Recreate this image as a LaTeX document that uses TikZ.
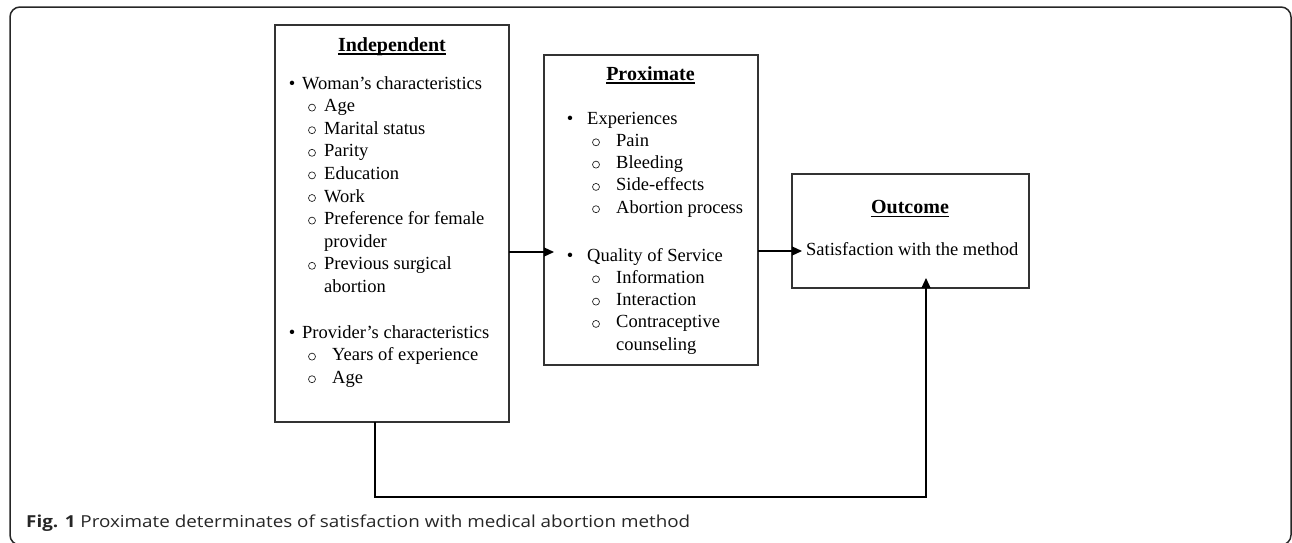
\documentclass[tikz,border=0pt]{standalone}
\usepackage{fontspec}
\usepackage{graphicx}
\setmainfont{Liberation Serif}
\newfontfamily\capfont{Open Sans}
\usetikzlibrary{arrows.meta}
\begin{document}
\begin{tikzpicture}[x=1pt,y=-1pt,
  box/.style={draw=black!80,line width=1.3pt,rectangle,inner sep=0pt,outer sep=0pt},
  txt/.style={anchor=base west,inner sep=0pt,font=\fontsize{18.5}{22}\selectfont},
  ttl/.style={anchor=base,inner sep=0pt,font=\fontsize{20}{24}\selectfont\bfseries},
  bul/.style={anchor=base,inner sep=0pt,font=\fontsize{18.5}{22}\selectfont},
  subbul/.style={circle,draw=black!85,line width=0.7pt,inner sep=0pt,minimum size=7pt},
  uline/.style={line width=1.5pt,black},
  arr/.style={draw=black,line width=1.2pt,-{Triangle[length=10pt,width=9pt]},shorten >=-10pt}]
\useasboundingbox (0,0) rectangle (1292,542);
% outer frame
\draw[line width=1.5pt,black!85,rounded corners=10pt] (10,7) rectangle (1291,545);

% boxes
\node[box,minimum width=234pt,minimum height=397pt] (indep) at (392,223.5) {};
\node[box,minimum width=214pt,minimum height=310pt] (prox) at (651,210) {};
\node[box,minimum width=237pt,minimum height=114pt] (outc) at (910.5,231) {};

% Independent
\node[ttl] (t1) at (392,51) {Independent};
\draw[uline] ([yshift=-3pt]t1.base west) -- ([yshift=-3pt]t1.base east);
\node[bul] (ib1) at (292,89) {•};
\node[txt] (i1) at (302,89) {Woman’s characteristics};
\node[subbul] (is1) at (312,107.6) {};
\node[txt] (i2) at (324,111.6) {Age};
\node[subbul] (is2) at (312,130.2) {};
\node[txt] (i3) at (324,134.2) {Marital status};
\node[subbul] (is3) at (312,152.8) {};
\node[txt] (i4) at (324,156.8) {Parity};
\node[subbul] (is4) at (312,175.4) {};
\node[txt] (i5) at (324,179.4) {Education};
\node[subbul] (is5) at (312,198) {};
\node[txt] (i6) at (324,202) {Work};
\node[subbul] (is6) at (312,220.6) {};
\node[txt] (i7) at (324,224.6) {Preference for female};
\node[txt] (i8) at (324,247.2) {provider};
\node[subbul] (is7) at (312,265.8) {};
\node[txt] (i9) at (324,269.8) {Previous surgical};
\node[txt] (i10) at (324,292.4) {abortion};
\node[bul] (ib2) at (292,338) {•};
\node[txt] (i11) at (302,338) {Provider’s characteristics};
\node[subbul] (is8) at (312,356.6) {};
\node[txt] (i12) at (332,360.6) {Years of experience};
\node[subbul] (is9) at (312,379.2) {};
\node[txt] (i13) at (332,383.2) {Age};

% Proximate
\node[ttl] (t2) at (650.5,80) {Proximate};
\draw[uline] ([yshift=-3pt]t2.base west) -- ([yshift=-3pt]t2.base east);
\node[bul] (pb1) at (570,124) {•};
\node[txt] (p1) at (587,124) {Experiences};
\node[subbul] (ps1) at (596,142.3) {};
\node[txt] (p2) at (616,146.3) {Pain};
\node[subbul] (ps2) at (596,164.6) {};
\node[txt] (p3) at (616,168.6) {Bleeding};
\node[subbul] (ps3) at (596,186.9) {};
\node[txt] (p4) at (616,190.9) {Side-effects};
\node[subbul] (ps4) at (596,209.2) {};
\node[txt] (p5) at (616,213.2) {Abortion process};
\node[bul] (pb2) at (570,261) {•};
\node[txt] (p6) at (587,261) {Quality of Service};
\node[subbul] (ps5) at (596,279.3) {};
\node[txt] (p7) at (616,283.3) {Information};
\node[subbul] (ps6) at (596,301.6) {};
\node[txt] (p8) at (616,305.6) {Interaction};
\node[subbul] (ps7) at (596,323.9) {};
\node[txt] (p9) at (616,327.9) {Contraceptive};
\node[txt] (p10) at (616,350.2) {counseling};

% Outcome
\node[ttl] (t3) at (910,213.5) {Outcome};
\draw[uline] ([yshift=-3pt]t3.base west) -- ([yshift=-3pt]t3.base east);
\node[txt] (o1) at (806,255) {Satisfaction with the method};

% connectors
\coordinate (a1) at (0,252);
\coordinate (a2) at (0,251);
\coordinate (c1) at (375,497);
\coordinate (c2) at (926,497);
\draw[arr] (indep.east |- a1) -- (prox.west |- a1);
\draw[arr] (prox.east |- a2) -- (outc.west |- a2);
\draw[arr] (indep.south -| c1) -- (c1) -- (c2) -- (outc.south -| c2);

% caption
\node[anchor=base west,inner sep=0pt,text=black!85] (cap) at (26,527)
  {\resizebox{664pt}{\height}{\fontsize{16.5}{20}\selectfont\capfont\textbf{Fig. 1} Proximate determinates of satisfaction with medical abortion method}};
\end{tikzpicture}
\end{document}
